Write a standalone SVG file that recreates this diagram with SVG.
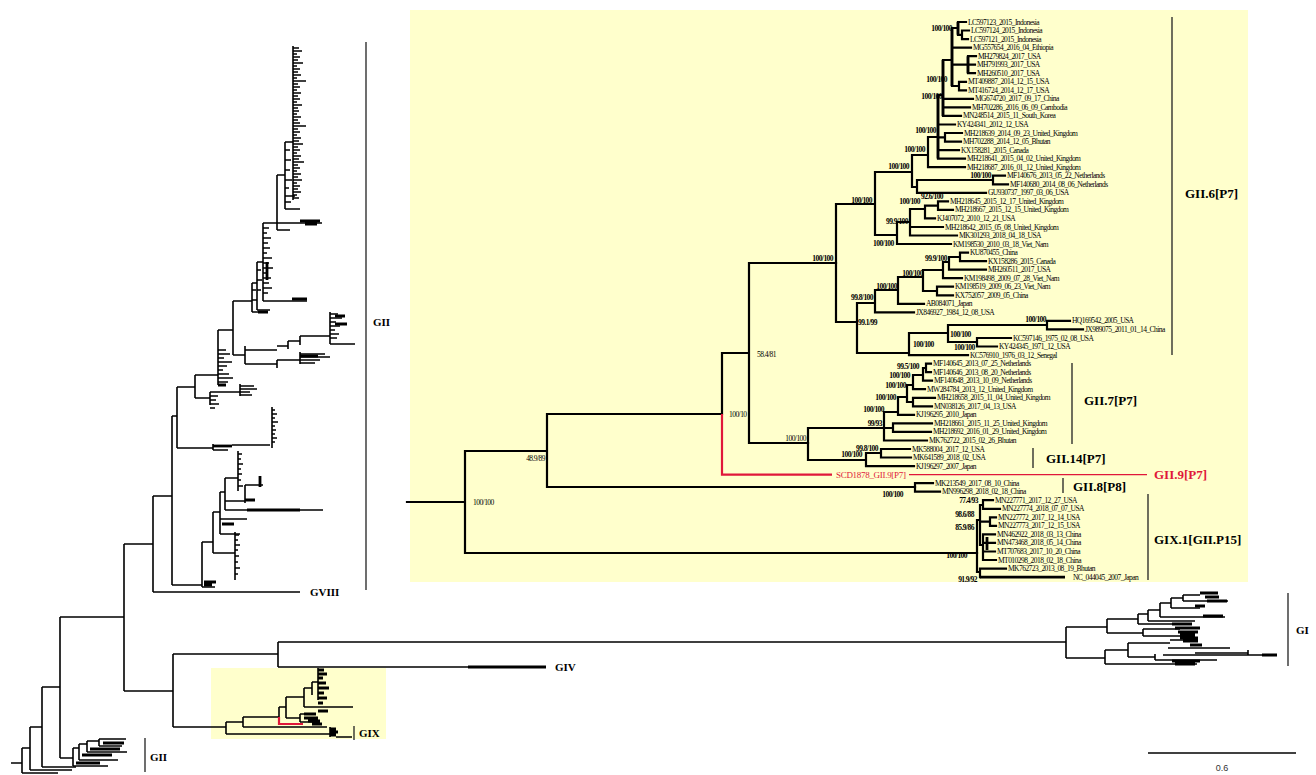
<svg xmlns="http://www.w3.org/2000/svg" width="1316" height="775" viewBox="0 0 1316 775">
<style>
.br{stroke:#000;stroke-width:2.2;fill:none;stroke-linecap:square}
.mt{stroke:#000;stroke-width:1.6;fill:none}
.bl{stroke:#000;stroke-width:1.6;fill:none}
.tk{stroke:#000;stroke-width:2.8;fill:none}
.red{stroke:#e0173a;stroke-width:2.2;fill:none}
.bar{stroke:#222;stroke-width:1.3;fill:none}
.lf{font-family:"Liberation Serif",serif;font-size:7.5px;letter-spacing:-0.55px;fill:#000}
.bs{font-family:"Liberation Serif",serif;font-size:7.5px;letter-spacing:-0.55px;font-weight:bold;fill:#000}
.bn{font-family:"Liberation Serif",serif;font-size:7.5px;letter-spacing:-0.55px;fill:#000}
.e{text-anchor:end}
.cl{font-family:"Liberation Serif",serif;font-size:13px;font-weight:bold;fill:#000}
.gl{font-family:"Liberation Serif",serif;font-size:11px;font-weight:bold;fill:#000}
</style>
<rect width="1316" height="775" fill="#fff"/>
<rect id="inset-bg" x="410" y="10" width="838" height="572" fill="#ffffcc"/>
<rect id="gix-highlight" x="211" y="668" width="175" height="71" fill="#ffffcc"/>

<g id="connectors">
<path class="mt" d="M11,763H22M22,748V773M22,773H58M22,748H30M30,727V770M30,770H72M30,727H42M42,687V767M42,767H76M42,687H60M60,617V758M60,758H73M60,617H124M124,544V691M124,691H173M173,654V727M173,654H278M278,642V667M278,642H1066M278,667H468M173,727H226M124,544H153M153,496V592M153,592H300M153,496H172M172,416V585M172,585H202"/>
<path class="tk" d="M468,667H546"/>
<path class="mt" d="M73,748V766M73,766H108M73,748H79M79,744V760M79,760H118M79,744H87M87,741V752M87,752H127M87,741H99M99,739V746M99,739H126M99,746H122"/>
<path class="tk" d="M82,755H112M90,749H120M76,763H100M103,743H124"/>
<path class="mt" d="M226,722V734M226,722H243M243,717V727M243,717H279M279,707V717M279,707H286M286,697V718M286,697H304M304,688V707M286,718H300M243,727H327M226,734H332M304,688H312M312,682V695M312,682H318M318,668V700M304,707H318M318,707H353M300,714V722M300,714H315M300,722H320M330,727V737M336,737H352"/>
<path class="tk" d="M318,670h6M318,674h9M318,678h5M318,683h8M318,688h11M318,693h6M318,698h9M318,703h5M318,711h10M304,714h12M304,718h14M308,721h12M312,724h10M330,729h6M330,732h8M330,735h6"/>
<path class="red" d="M279,717V724H303"/>
<path class="mt" d="M177,387V448M177,448H213M213,444V450M232,445H270M272,407V448M213,450H228M177,387H195M195,375V398M195,398H210M210,392V405M210,392H240M240,384V396M195,375H218M218,330V385M218,330H233M233,301V355M233,355H245M245,346V364M245,350H277M277,346H288M288,341V349M288,341H300M300,336V345M300,336H330M330,312V344M330,344H355M245,364H277M277,360V368M277,360H300M300,352V364M233,301H252M252,283V312M252,312H265M252,283H257M257,262V310M257,310H270M257,262H263M263,223V301M263,301H307M263,223H277M277,175V230M277,230H290M277,223H322M277,175H285M285,142V209M285,142H293M293,46V200M285,209H300M285,196H295M172,416H177"/>
<path class="tk" d="M213,446H232"/>
<path class="bl" d="M293,48h6M293,51h9M293,54h4M293,57h7M293,60h5M293,63h10M293,66h4M293,69h7M293,72h5M293,75h8M293,78h4M293,81h13M293,84h5M293,87h7M293,90h4M293,93h8M293,96h5M293,99h7M293,102h4M293,105h9M293,108h5M293,111h6M293,114h4M293,117h8M293,120h5M293,123h7M293,126h13M293,129h5M293,132h7M293,135h4M293,138h8M293,141h6M293,144h10M293,147h5M293,150h7M293,153h4M293,156h8M293,159h6M293,162h11M293,165h5M293,168h7M293,171h4M293,174h8M293,177h5M293,180h9M293,183h4M293,186h7M293,189h5M293,192h8M293,195h4M293,198h6M285,150h5M285,160h6M285,170h5M285,180h7M285,188h4M285,202h6"/>
<path class="bl" d="M263,228h6M263,233h4M263,238h8M263,243h5M263,248h7M263,253h4M263,258h9M263,263h6M263,268h10M263,273h5M263,278h8M263,283h6M263,288h9M263,293h5M257,270h4M257,280h5M257,290h4M252,290h4M252,300h5"/>
<path class="tk" d="M300,221h20M305,224h12M292,299h15M258,312h10M267,262V280"/>
<path class="bl" d="M218,350h8M218,354h12M218,358h6M218,362h14M218,366h9M218,370h5M218,374h11M218,378h15M218,382h10M210,396h8M210,400h6M210,404h9M210,408h5M240,386h14M240,389h17M240,392h10M240,395h12M272,410h3M272,414h5M272,418h3M272,422h6M272,426h3M272,430h4M272,434h3M272,438h5M272,442h3M330,314h8M330,318h12M330,322h6M330,326h10M330,330h5M330,334h9M330,338h7M300,354h25M300,357h30M300,360h20M300,363h15"/>
<path class="tk" d="M335,316h10M335,324h12M218,385h8M300,356h18"/>
<path class="mt" d="M202,542V587M202,587H215M202,542H213M213,512V553M213,553H235M235,532V580M213,512H220M220,492V534M220,534H240M220,519H247M220,492H225M225,478V510M225,478H238M238,451V491M225,501H245M245,485V503M245,485H263M225,510H323"/>
<path class="bl" d="M235,535h4M235,540h3M235,545h5M235,550h3M235,556h4M235,562h3M235,568h5M235,574h3M238,454h4M238,459h3M238,464h5M238,469h3M238,474h4M238,480h3M238,486h5"/>
<path class="tk" d="M247,510H300M260,476V487M204,582h12M204,585h8M222,524h12M245,500h10"/>
<path class="mt" d="M1066,627V658M1066,627H1107M1107,619V633M1107,619H1138M1138,614V624M1138,624H1180M1138,614H1148M1148,610V621M1148,621H1195M1148,610H1160M1160,603V617M1160,617H1225M1160,603H1171M1171,598V608M1171,608H1200M1171,598H1183M1183,595V601M1183,595H1200M1183,601H1228M1107,633H1143M1143,629V636M1143,629H1180M1143,636H1190M1066,658H1105M1105,650V664M1105,650H1128M1128,643V657M1128,643H1170M1170,640H1197M1168,648H1230M1128,657H1155M1155,654V660M1155,660H1217M1163,655H1277M1195,653H1248M1248,650V655M1105,664H1197"/>
<path class="tk" d="M1200,593h18M1205,597h14M1207,601h20M1195,606h10M1203,616h20M1172,624h20M1175,628h25M1178,632h20M1180,635h15M1180,638h18M1183,641h15M1190,645h12M1262,655h15M1172,661h28M1175,664h20"/>
<path class="mt" d="M1148,753H1296"/>

<path class="br" d="M407,502H465M465,451V553M465,451H547M547,414V487M547,414H722M722,353V414M722,353H749M749,263V443M749,263H836M749,443H808M547,487H915M465,553H977"/>
<path class="red" d="M722,414V474.6H832"/>
<path class="red" style="stroke-width:1.3" d="M909,474.6H1147"/>
<path class="br" d="M836,204V322M836,204H875M875,172V235M875,172H912M912,155V187M912,155H928M928,137V167.2M928,167.2H965M928,137H938M938,95V158.6M938,158.6H965M938,150.1H959M938,137.3H945M945,133V141.6M945,133H962M945,141.6H961M938,124.5H955M938,95H943M943,60V115.9M943,115.9H961M943,107.4H970M943,98.9H973M943,60H952M952,28V86M952,86H959M959,81.8V90.3M959,81.8H966M959,90.3H966M952,64.7H968M968,56.2V73.2M968,56.2H976M968,64.7H975M968,73.2H975M952,47.6H971M952,28H958M958,22V34.8M958,22H966M958,34.8H962M962,30.5V39.1M962,30.5H969M962,39.1H968M912,187H917M917,180V192.8M917,192.8H986M917,180H993M993,175.7V184.3M993,175.7H1005M993,184.3H1008M875,235H897M897,222V244M897,244H951M897,222H910M910,209V235.5M910,235.5H957M910,227H943M910,209H925M925,205.6V218.4M925,218.4H935M925,205.6H938M938,201.3V209.9M938,201.3H948M938,209.9H953M836,322H857M857,303V353M857,303H875M875,290V312.4M875,312.4H914M875,290H898M898,277V303.8M898,303.8H924M898,277H923M923,270V291M923,291H937M937,286.7V295.3M937,286.7H953M937,295.3H953M923,270H943M943,262V278.2M943,278.2H962M943,262H949M949,257V269.7M949,269.7H986M949,257H960M960,252.6V261.1M960,252.6H968M960,261.1H986M857,353H909M909,333V355.1M909,355.1H968M909,333H948M948,325V342M948,325H1047M1047,320.9V329.4M1047,320.9H1070M1047,329.4H1083M948,342H977M977,338V346.5M977,338H1011M977,346.5H997"/>
<path class="tk" d="M952,28V86M943,60V115.9M938,95V158.6M958,22V34.8M968,56.2V73.2"/>
<path class="br" d="M808,428V460M808,428H884M884,412V440.5M884,440.5H927M884,428H893M893,423.4V431.9M893,423.4H932M893,431.9H931M884,412H898M898,397V414.8M898,414.8H914M898,397H907M907,385V402M907,402H913M913,397.8V406.3M913,397.8H935M913,406.3H932M907,385H913M913,375V389.2M913,389.2H925M913,375H923M923,368V380.7M923,380.7H932M923,368H926M926,363.6V372.1M926,363.6H931M926,372.1H931M808,460H866M866,453V466.1M866,466.1H914M866,453H881M881,449V457.5M881,449H910M881,457.5H911M915,483.2V491.7M915,483.2H933M915,491.7H940"/>
<path class="br" d="M977,520V572M977,572H980M980,568.6V577.1M980,568.6H1006M977,520H980M980,505V545M980,505H983M983,500.2V508.8M983,500.2H993M983,508.8H1000M980,521.6H990M990,517.3V525.9M990,517.3H996M990,525.9H996M980,545H983M983,534.4V560M983,534.4H995M983,542.9H995M983,551.5H995M983,560H996"/>
<path class="tk" d="M980,577.1H1065M987,537V550"/>
<path class="bar" d="M1172,17V355M1072,363V444M1033,448V468M1063,478V493M1148,494V580M366,42V590M354,726V740M145,738V772M1288,593V666"/>
</g>

<g id="main-labels">
<text class="gl" x="373" y="326">GII</text>
<text class="gl" x="310" y="596">GVIII</text>
<text class="gl" x="555" y="671">GIV</text>
<text class="gl" x="359" y="737">GIX</text>
<text class="gl" x="150" y="761">GII</text>
<text class="gl" x="1296" y="634">GI</text>
<text x="1222" y="771" style="font-family:'Liberation Sans',sans-serif;font-size:9px;fill:#333;text-anchor:middle">0.6</text>
</g>

<g id="clade-labels">
<text class="cl" x="1185" y="198">GII.6[P7]</text>
<text class="cl" x="1084" y="405">GII.7[P7]</text>
<text class="cl" x="1046" y="463">GII.14[P7]</text>
<text class="cl" x="1154" y="479" style="fill:#e0173a">GII.9[P7]</text>
<text class="cl" x="1073" y="491">GII.8[P8]</text>
<text class="cl" x="1154" y="544">GIX.1[GII.P15]</text>
</g>

<g id="support-values">
<text class="bn" x="473" y="505">100/100</text>
<text class="bn e" x="545" y="461">48.9/89</text>
<text class="bn" x="729" y="417">100/10</text>
<text class="bn" x="757" y="357">58.4/81</text>
<text class="bn e" x="806" y="441">100/100</text>
<text class="bs e" x="833" y="261">100/100</text>
<text class="bs e" x="872" y="203">100/100</text>
<text class="bs e" x="909" y="169">100/100</text>
<text class="bs e" x="925" y="152">100/100</text>
<text class="bs e" x="936" y="133">100/100</text>
<text class="bs e" x="942" y="99">100/100</text>
<text class="bs e" x="947" y="82">100/100</text>
<text class="bs e" x="952" y="31">100/100</text>
<text class="bs e" x="991" y="178">100/100</text>
<text class="bs" x="921" y="199">92.6/100</text>
<text class="bs e" x="920" y="204">100/100</text>
<text class="bs e" x="908" y="224">99.9/100</text>
<text class="bs" x="873" y="246">100/100</text>
<text class="bs e" x="947" y="261">99.9/100</text>
<text class="bs e" x="923" y="276">100/100</text>
<text class="bs e" x="897" y="289">100/100</text>
<text class="bs e" x="873" y="300">99.8/100</text>
<text class="bs" x="858" y="325">99.1/99</text>
<text class="bs e" x="1046" y="322">100/100</text>
<text class="bs" x="950" y="337">100/100</text>
<text class="bs" x="913" y="347">100/100</text>
<text class="bs" x="954" y="350">100/100</text>
<text class="bs e" x="919" y="369">99.5/100</text>
<text class="bs e" x="910" y="378">100/100</text>
<text class="bs e" x="906" y="388">100/100</text>
<text class="bs e" x="896" y="400">100/100</text>
<text class="bs e" x="884" y="412">100/100</text>
<text class="bs e" x="882" y="426">99/93</text>
<text class="bs e" x="878" y="451">99.8/100</text>
<text class="bs e" x="862" y="457">100/100</text>
<text class="bs e" x="903" y="497">100/100</text>
<text class="bs e" x="978" y="503">77.4/93</text>
<text class="bs e" x="974" y="517">98.6/88</text>
<text class="bs e" x="974" y="530">85.9/86</text>
<text class="bs e" x="967" y="558">100/100</text>
<text class="bs e" x="977" y="582">91.9/92</text>
</g>

<g id="leaves-GII6">
<text class="lf" x="968" y="24.5">LC597123_2015_Indonesia</text>
<text class="lf" x="971" y="33">LC597124_2015_Indonesia</text>
<text class="lf" x="970" y="41.6">LC597121_2015_Indonesia</text>
<text class="lf" x="973" y="50.1">MG557654_2016_04_Ethiopia</text>
<text class="lf" x="978" y="58.7">MH279824_2017_USA</text>
<text class="lf" x="977" y="67.2">MH791993_2017_USA</text>
<text class="lf" x="977" y="75.7">MH260510_2017_USA</text>
<text class="lf" x="968" y="84.3">MT409887_2014_12_15_USA</text>
<text class="lf" x="968" y="92.8">MT416724_2014_12_17_USA</text>
<text class="lf" x="975" y="101.4">MG674720_2017_09_17_China</text>
<text class="lf" x="972" y="109.9">MH702286_2016_06_09_Cambodia</text>
<text class="lf" x="963" y="118.4">MN248514_2015_11_South_Korea</text>
<text class="lf" x="957" y="127">KY424341_2012_12_USA</text>
<text class="lf" x="964" y="135.5">MH218639_2014_09_23_United_Kingdom</text>
<text class="lf" x="963" y="144.1">MH702288_2014_12_05_Bhutan</text>
<text class="lf" x="961" y="152.6">KX158281_2015_Canada</text>
<text class="lf" x="967" y="161.1">MH218641_2015_04_02_United_Kingdom</text>
<text class="lf" x="967" y="169.7">MH218687_2016_01_12_United_Kingdom</text>
<text class="lf" x="1007" y="178.2">MF140676_2013_05_22_Netherlands</text>
<text class="lf" x="1010" y="186.8">MF140680_2014_08_06_Netherlands</text>
<text class="lf" x="988" y="195.3">GU930737_1997_03_06_USA</text>
<text class="lf" x="950" y="203.8">MH218645_2015_12_17_United_Kingdom</text>
<text class="lf" x="955" y="212.4">MH218667_2015_12_15_United_Kingdom</text>
<text class="lf" x="937" y="220.9">KJ407072_2010_12_21_USA</text>
<text class="lf" x="945" y="229.5">MH218642_2015_05_08_United_Kingdom</text>
<text class="lf" x="959" y="238">MK301293_2018_04_18_USA</text>
<text class="lf" x="953" y="246.5">KM198530_2010_03_18_Viet_Nam</text>
<text class="lf" x="970" y="255.1">KU870455_China</text>
<text class="lf" x="988" y="263.6">KX158286_2015_Canada</text>
<text class="lf" x="988" y="272.2">MH260511_2017_USA</text>
<text class="lf" x="964" y="280.7">KM198498_2009_07_28_Viet_Nam</text>
<text class="lf" x="955" y="289.2">KM198519_2009_06_23_Viet_Nam</text>
<text class="lf" x="955" y="297.8">KX752057_2009_05_China</text>
<text class="lf" x="926" y="306.3">AB084071_Japan</text>
<text class="lf" x="916" y="314.9">JX846927_1984_12_08_USA</text>
<text class="lf" x="1072" y="323.4">HQ169542_2005_USA</text>
<text class="lf" x="1085" y="331.9">JX989075_2011_01_14_China</text>
<text class="lf" x="1013" y="340.5">KC597146_1975_02_08_USA</text>
<text class="lf" x="999" y="349">KY424345_1971_12_USA</text>
<text class="lf" x="970" y="357.6">KC576910_1976_03_12_Senegal</text>
</g>
<g id="leaves-GII7">
<text class="lf" x="933" y="366.1">MF140645_2013_07_25_Netherlands</text>
<text class="lf" x="933" y="374.6">MF140646_2013_08_20_Netherlands</text>
<text class="lf" x="934" y="383.2">MF140648_2013_10_09_Netherlands</text>
<text class="lf" x="927" y="391.7">MW284784_2013_12_United_Kingdom</text>
<text class="lf" x="937" y="400.3">MH218658_2015_11_04_United_Kingdom</text>
<text class="lf" x="934" y="408.8">MN038126_2017_04_13_USA</text>
<text class="lf" x="916" y="417.3">KJ196295_2010_Japan</text>
<text class="lf" x="934" y="425.9">MH218661_2015_11_25_United_Kingdom</text>
<text class="lf" x="933" y="434.4">MH218692_2016_01_29_United_Kingdom</text>
<text class="lf" x="929" y="443">MK762722_2015_02_26_Bhutan</text>
</g>
<g id="leaves-GII14">
<text class="lf" x="912" y="451.5">MK588004_2017_12_USA</text>
<text class="lf" x="913" y="460">MK641589_2018_02_USA</text>
<text class="lf" x="916" y="468.6">KJ196297_2007_Japan</text>
</g>
<g id="leaf-SCD1878">
<text x="836" y="477.8" style="font-family:'Liberation Serif',serif;font-size:9px;letter-spacing:-0.3px;fill:#e0173a">SCD1878_GII.9[P7]</text>
</g>
<g id="leaves-GII8">
<text class="lf" x="935" y="485.7">MK213549_2017_08_10_China</text>
<text class="lf" x="942" y="494.2">MN996298_2018_02_18_China</text>
</g>
<g id="leaves-GIX1">
<text class="lf" x="995" y="502.7">MN227771_2017_12_27_USA</text>
<text class="lf" x="1002" y="511.3">MN227774_2018_07_07_USA</text>
<text class="lf" x="998" y="519.8">MN227772_2017_12_14_USA</text>
<text class="lf" x="998" y="528.4">MN227773_2017_12_15_USA</text>
<text class="lf" x="997" y="536.9">MN462922_2018_03_13_China</text>
<text class="lf" x="997" y="545.4">MN473468_2018_05_14_China</text>
<text class="lf" x="997" y="554">MT707683_2017_10_20_China</text>
<text class="lf" x="998" y="562.5">MT010298_2018_02_18_China</text>
<text class="lf" x="1008" y="571.1">MK762723_2013_08_19_Bhutan</text>
<text class="lf" x="1073" y="579.6">NC_044045_2007_Japan</text>
</g>
</svg>
